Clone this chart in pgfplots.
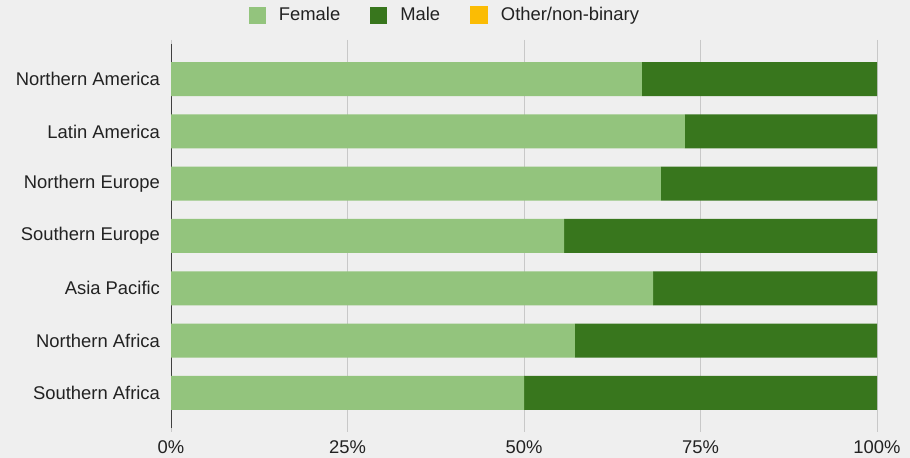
\documentclass[border=0pt]{standalone}
\usepackage{pgfplots}
\pgfplotsset{compat=1.18}
\usepackage{fontspec}
\setmainfont{Liberation Sans}
\definecolor{bg}{HTML}{EFEFEF}
\definecolor{female}{HTML}{93C47D}
\definecolor{male}{HTML}{38761D}
\definecolor{other}{HTML}{FBBC04}
\definecolor{gridc}{HTML}{C8C8C8}
\definecolor{txt}{HTML}{222222}
\newcommand{\lf}{\fontsize{9.2}{11}\selectfont}
\begin{document}
\begin{tikzpicture}
\fill[bg] (0,0) rectangle (455pt,229pt);
\useasboundingbox (0,0) rectangle (455pt,229pt);
\begin{axis}[
    at={(85.5pt,15pt)}, anchor=south west,
    scale only axis, width=353pt, height=192pt,
    xbar stacked, bar width=17pt,
    xmin=0, xmax=100,
    ymin=-0.673, ymax=6.673, y dir=reverse,
    ytick={0,...,6},
    yticklabels={Northern America,Latin America,Northern Europe,Southern Europe,Asia Pacific,Northern Africa,Southern Africa},
    xtick={0,25,50,75,100},
    xticklabel={\pgfmathprintnumber{\tick}\%},
    /pgf/number format/assume math mode=true,
    axis line style={draw=none},
    xmajorgrids, major grid style={draw=gridc, line width=0.5pt},
    tick align=outside,
    major tick length=2pt,
    xtick style={draw=gridc, line width=0.5pt},
    ytick style={draw=none},
    ticklabel style={font=\lf, text=txt},
    xticklabel style={yshift=-1pt},
    legend columns=-1,
    legend style={at={(0.3895,1.075)}, anchor=center, draw=none, fill=none,
        font=\lf, text=txt,
        /tikz/every even column/.append style={column sep=13pt}},
]
\addplot[fill=female, draw=none, legend image code/.code={\fill[female] (0pt,-4.25pt) rectangle (8.5pt,4.25pt); \path (13pt,0pt);}] coordinates {
    (66.7,0) (72.8,1) (69.4,2) (55.7,3) (68.3,4) (57.2,5) (50.0,6)};
\addlegendentry{Female}
\addplot[fill=male, draw=none, legend image code/.code={\fill[male] (0pt,-4.25pt) rectangle (8.5pt,4.25pt); \path (13pt,0pt);}] coordinates {
    (33.3,0) (27.2,1) (30.6,2) (44.3,3) (31.7,4) (42.8,5) (50.0,6)};
\addlegendentry{Male}
\addlegendimage{legend image code/.code={\fill[other] (0pt,-4.25pt) rectangle (8.5pt,4.25pt); \path (13pt,0pt);}}
\addlegendentry{Other/non-binary}
\draw[black!75, line width=0.6pt] (axis cs:0,-0.673) -- ([yshift=-2pt]axis cs:0,6.673);
\end{axis}
\end{tikzpicture}
\end{document}
